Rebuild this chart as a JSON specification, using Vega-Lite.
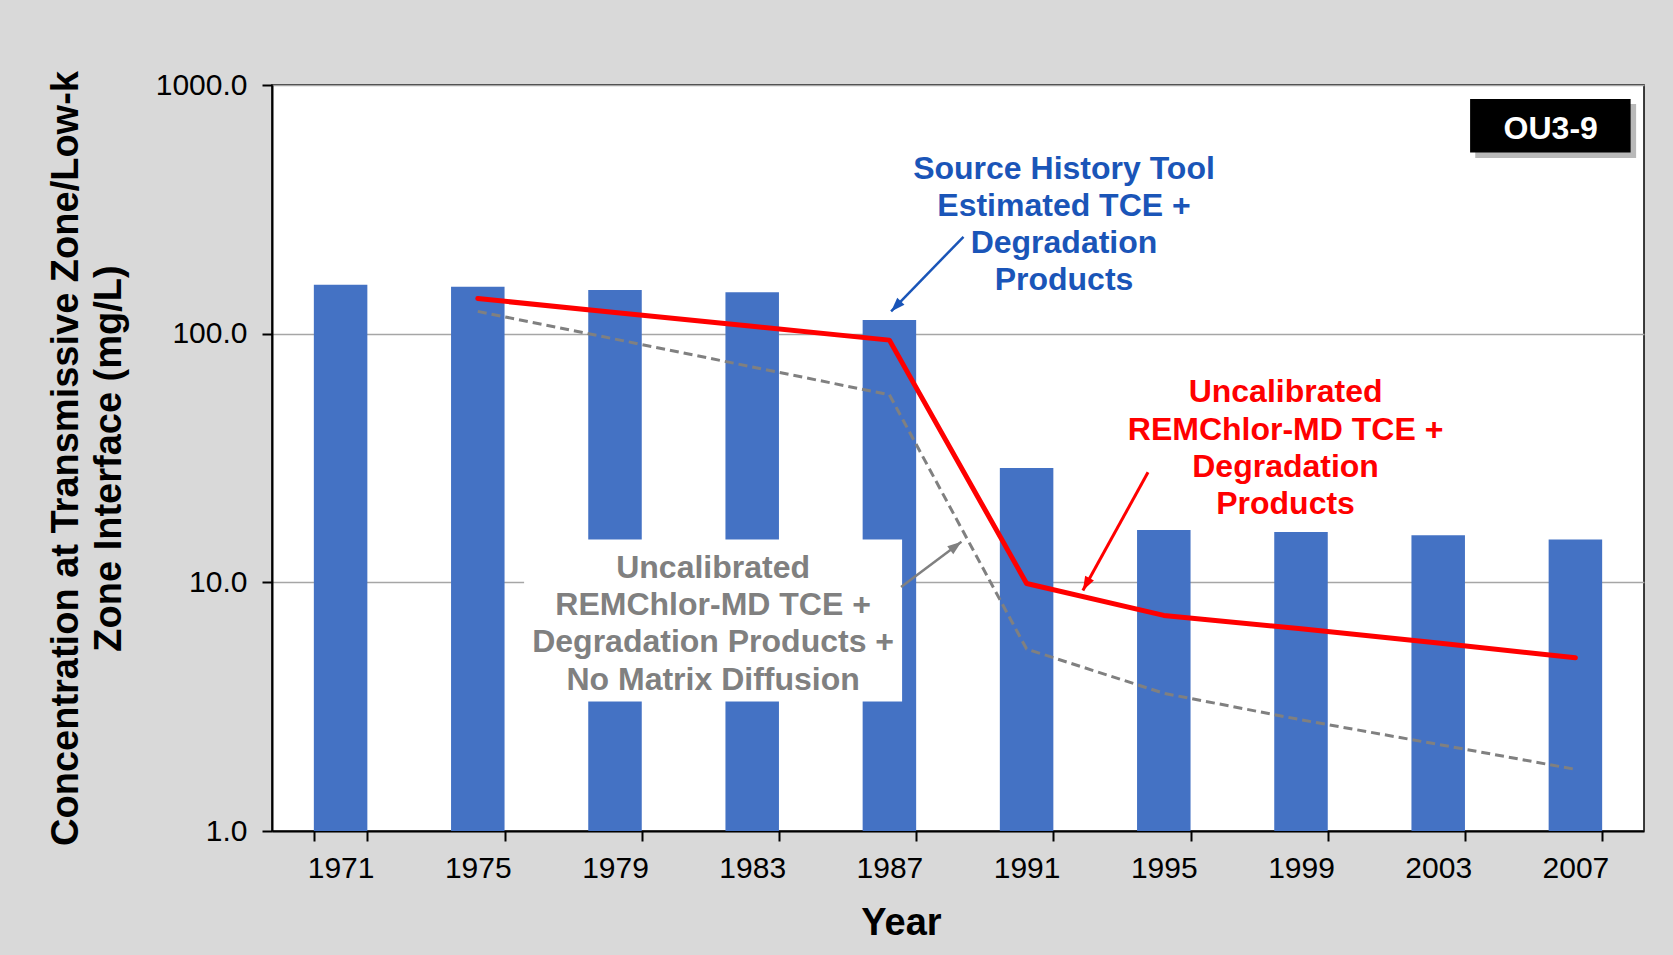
{
  "$schema": "https://vega.github.io/schema/vega-lite/v6.json",
  "autosize": {"type": "none"},
  "padding": {"left": 272, "top": 85, "right": 29, "bottom": 124},
  "width": 1372,
  "height": 746,
  "background": "#d9d9d9",
  "config": {
    "font": "Liberation Sans",
    "view": {"stroke": "#000000", "strokeWidth": 1.5, "fill": "white"},
    "axis": {
      "domainColor": "#000000", "domainWidth": 2,
      "tickColor": "#000000", "tickWidth": 2, "tickSize": 10,
      "labelFont": "Liberation Sans", "labelFontSize": 30, "labelColor": "#000000",
      "titleFont": "Liberation Sans", "titleFontSize": 38, "titleFontWeight": "bold", "titleColor": "#000000",
      "gridColor": "#a6a6a6", "gridWidth": 1.5
    }
  },
  "datasets": {
    "bars": [
      {"year": 1971, "v": 157.3}, {"year": 1975, "v": 154.3}, {"year": 1979, "v": 149.8},
      {"year": 1983, "v": 146.8}, {"year": 1987, "v": 113.6}, {"year": 1991, "v": 28.8},
      {"year": 1995, "v": 16.25}, {"year": 1999, "v": 15.94}, {"year": 2003, "v": 15.48},
      {"year": 2007, "v": 14.87}
    ],
    "red": [
      {"year": 1975, "v": 138.4}, {"year": 1979, "v": 121.7}, {"year": 1983, "v": 107.1},
      {"year": 1987, "v": 94.2}, {"year": 1991, "v": 9.89}, {"year": 1995, "v": 7.36},
      {"year": 1999, "v": 6.5}, {"year": 2003, "v": 5.7}, {"year": 2007, "v": 4.97}
    ],
    "gray": [
      {"year": 1975, "v": 122.9}, {"year": 1979, "v": 95.1}, {"year": 1983, "v": 73.5},
      {"year": 1987, "v": 56.8}, {"year": 1991, "v": 5.39}, {"year": 1995, "v": 3.58},
      {"year": 1999, "v": 2.8}, {"year": 2003, "v": 2.23}, {"year": 2007, "v": 1.77}
    ],
    "blueText": [
      {"x": 1992.09, "v": 472.9, "t": "Source History Tool"},
      {"x": 1992.09, "v": 335.6, "t": "Estimated TCE +"},
      {"x": 1992.09, "v": 238.4, "t": "Degradation"},
      {"x": 1992.09, "v": 169.3, "t": "Products"}
    ],
    "redText": [
      {"x": 1998.55, "v": 59.8, "t": "Uncalibrated"},
      {"x": 1998.55, "v": 42.3, "t": "REMChlor-MD TCE +"},
      {"x": 1998.55, "v": 30.0, "t": "Degradation"},
      {"x": 1998.55, "v": 21.2, "t": "Products"}
    ],
    "grayText": [
      {"x": 1981.86, "v": 11.74, "t": "Uncalibrated"},
      {"x": 1981.86, "v": 8.3, "t": "REMChlor-MD TCE +"},
      {"x": 1981.86, "v": 5.89, "t": "Degradation Products +"},
      {"x": 1981.86, "v": 4.17, "t": "No Matrix Diffusion"}
    ],
    "grayBox": [{"x": 1976.35, "x2": 1987.37, "v": 14.86, "v2": 3.32}],
    "ouShadow": [{"x": 2004.08, "x2": 2008.77, "v": 839, "v2": 509}],
    "ouBox": [{"x": 2003.93, "x2": 2008.61, "v": 878, "v2": 535}],
    "ouText": [{"x": 2006.28, "v": 670, "t": "OU3-9"}],
    "blueArrow": [{"x": 1989.16, "v": 245.3, "x2": 1987.05, "v2": 122.9}],
    "redArrow": [{"x": 1994.54, "v": 27.7, "x2": 1992.64, "v2": 9.27}],
    "grayArrow": [{"x": 1987.34, "v": 9.57, "x2": 1989.1, "v2": 14.55}]
  },
  "layer": [
    {
      "layer": [
        {
          "data": {"name": "bars"},
          "mark": {"type": "bar", "color": "#4472c4"},
          "encoding": {
            "x": {
              "field": "year", "type": "ordinal",
              "scale": {"paddingInner": 0.61, "paddingOuter": 0.305},
              "axis": {"title": "Year", "tickBand": "extent", "labelAngle": 0, "labelPadding": 12, "titlePadding": 21, "titleX": 629, "titleAlign": "center", "grid": false}
            },
            "y": {
              "field": "v", "type": "quantitative",
              "scale": {"type": "log", "domain": [1, 1000], "nice": false},
              "axis": {
                "title": ["Concentration at Transmissive Zone/Low-k", "Zone Interface (mg/L)"],
                "values": [1, 10, 100, 1000], "format": ".1f", "grid": true,
                "labelPadding": 15, "titlePadding": 27, "titleLineHeight": 43
              }
            },
            "y2": {"datum": 1}
          }
        },
        {
          "data": {"name": "gray"},
          "mark": {"type": "line", "color": "#808080", "strokeWidth": 3, "strokeDash": [9, 5]},
          "encoding": {
            "x": {"field": "year", "type": "ordinal"},
            "y": {"field": "v", "type": "quantitative", "scale": {"type": "log", "domain": [1, 1000], "nice": false}}
          }
        },
        {
          "data": {"name": "red"},
          "mark": {"type": "line", "color": "#ff0000", "strokeWidth": 5, "strokeCap": "round", "strokeJoin": "round"},
          "encoding": {
            "x": {"field": "year", "type": "ordinal"},
            "y": {"field": "v", "type": "quantitative", "scale": {"type": "log", "domain": [1, 1000], "nice": false}}
          }
        }
      ]
    },
    {
      "encoding": {
        "x": {"field": "x", "type": "quantitative", "scale": {"domain": [1969, 2009], "nice": false, "zero": false}, "axis": null},
        "y": {"field": "v", "type": "quantitative", "scale": {"type": "log", "domain": [1, 1000], "nice": false}}
      },
      "layer": [
        {
          "data": {"name": "grayBox"},
          "mark": {"type": "rect", "color": "white"},
          "encoding": {"x2": {"field": "x2"}, "y2": {"field": "v2"}}
        },
        {
          "data": {"name": "grayText"},
          "mark": {"type": "text", "color": "#808080", "fontSize": 32, "fontWeight": "bold", "align": "center", "baseline": "middle", "dy": 3},
          "encoding": {"text": {"field": "t"}}
        },
        {
          "data": {"name": "blueText"},
          "mark": {"type": "text", "color": "#1a55b8", "fontSize": 32, "fontWeight": "bold", "align": "center", "baseline": "middle", "dy": 3},
          "encoding": {"text": {"field": "t"}}
        },
        {
          "data": {"name": "redText"},
          "mark": {"type": "text", "color": "#ff0000", "fontSize": 32, "fontWeight": "bold", "align": "center", "baseline": "middle", "dy": 3},
          "encoding": {"text": {"field": "t"}}
        },
        {
          "data": {"name": "ouShadow"},
          "mark": {"type": "rect", "color": "#808080", "opacity": 0.55},
          "encoding": {"x2": {"field": "x2"}, "y2": {"field": "v2"}}
        },
        {
          "data": {"name": "ouBox"},
          "mark": {"type": "rect", "color": "#000000"},
          "encoding": {"x2": {"field": "x2"}, "y2": {"field": "v2"}}
        },
        {
          "data": {"name": "ouText"},
          "mark": {"type": "text", "color": "white", "fontSize": 32, "fontWeight": "bold", "align": "center", "baseline": "middle", "dy": 1},
          "encoding": {"text": {"field": "t"}}
        },
        {
          "data": {"name": "blueArrow"},
          "mark": {"type": "rule", "color": "#1a55b8", "strokeWidth": 2.5},
          "encoding": {"x2": {"field": "x2"}, "y2": {"field": "v2"}}
        },
        {
          "data": {"name": "blueArrow"},
          "mark": {"type": "point", "filled": true, "color": "#1a55b8", "opacity": 1, "size": 400, "angle": 224, "shape": "M0,0L-0.5,1.4L0.5,1.4Z"},
          "encoding": {"x": {"field": "x2", "type": "quantitative"}, "y": {"field": "v2", "type": "quantitative"}}
        },
        {
          "data": {"name": "redArrow"},
          "mark": {"type": "rule", "color": "#ff0000", "strokeWidth": 3},
          "encoding": {"x2": {"field": "x2"}, "y2": {"field": "v2"}}
        },
        {
          "data": {"name": "redArrow"},
          "mark": {"type": "point", "filled": true, "color": "#ff0000", "opacity": 1, "size": 400, "angle": 208.6, "shape": "M0,0L-0.5,1.4L0.5,1.4Z"},
          "encoding": {"x": {"field": "x2", "type": "quantitative"}, "y": {"field": "v2", "type": "quantitative"}}
        },
        {
          "data": {"name": "grayArrow"},
          "mark": {"type": "rule", "color": "#808080", "strokeWidth": 2.5},
          "encoding": {"x2": {"field": "x2"}, "y2": {"field": "v2"}}
        },
        {
          "data": {"name": "grayArrow"},
          "mark": {"type": "point", "filled": true, "color": "#808080", "opacity": 1, "size": 400, "angle": 53, "shape": "M0,0L-0.5,1.4L0.5,1.4Z"},
          "encoding": {"x": {"field": "x2", "type": "quantitative"}, "y": {"field": "v2", "type": "quantitative"}}
        }
      ]
    }
  ],
  "resolve": {"scale": {"x": "independent"}}
}
